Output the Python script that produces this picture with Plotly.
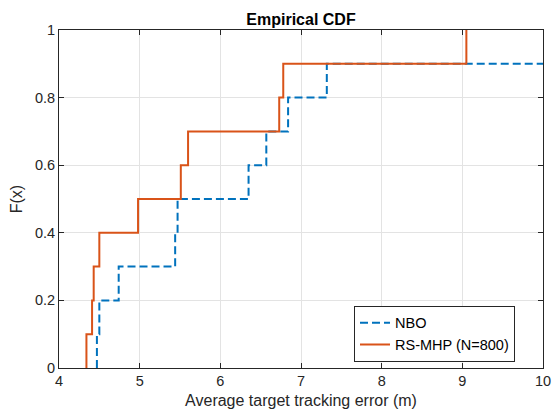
import numpy as np
import plotly.graph_objects as go

# Sample values (ECDF step locations)
nbo_values = [4.47, 4.50, 4.74, 5.44, 5.47, 6.35, 6.57, 6.84, 7.32, 11.5]
rsmhp_values = [4.34, 4.41, 4.43, 4.50, 4.98, 5.51, 5.60, 6.73, 6.78, 9.05]
series_names = ["NBO", "RS-MHP (N=800)"]
x_ticks = [4, 5, 6, 7, 8, 9, 10]
y_ticks = [0, 0.2, 0.4, 0.6, 0.8, 1]


def ecdf_xy(vals):
    v = np.sort(np.asarray(vals, dtype=float))
    n = len(v)
    xs = [v[0]] + list(v)
    ys = [0.0] + [(i + 1) / n for i in range(n)]
    return xs, ys


fig = go.Figure()
x1, y1 = ecdf_xy(nbo_values)
fig.add_trace(go.Scatter(x=x1, y=y1, mode="lines", line_shape="hv", name=series_names[0],
                         line=dict(color="#0072BD", width=2, dash="8px,4px")))
x2, y2 = ecdf_xy(rsmhp_values)
fig.add_trace(go.Scatter(x=x2, y=y2, mode="lines", line_shape="hv", name=series_names[1],
                         line=dict(color="#D95319", width=2)))

axis_common = dict(showgrid=True, gridcolor="#e3e3e3", gridwidth=1, zeroline=False,
                   showline=True, linecolor="#262626", linewidth=1, mirror="ticks",
                   ticks="inside", ticklen=5, tickcolor="#262626", automargin=False,
                   tickfont=dict(size=14.5, color="#262626"))

fig.update_layout(
    width=552, height=413,
    margin=dict(l=59, r=9, t=30, b=45),
    paper_bgcolor="white", plot_bgcolor="white",
    font=dict(family="Liberation Sans, Arial, sans-serif", size=14.5, color="#262626"),
    title=dict(text="<b>Empirical CDF</b>", x=301 / 552, xanchor="center",
               y=1 - 19 / 413, yanchor="middle",
               font=dict(size=16, color="black")),
    xaxis=dict(range=[4, 10], tickvals=x_ticks, ticktext=[str(t) for t in x_ticks],
               title=dict(text="Average target tracking error (m)", standoff=6,
                          font=dict(size=16, color="#262626")), **axis_common),
    yaxis=dict(range=[0, 1], tickvals=y_ticks, ticktext=["0", "0.2", "0.4", "0.6", "0.8", "1"],
               title=dict(text="F(x)", standoff=8, font=dict(size=16, color="#262626")), **axis_common),
    legend=dict(x=(515 - 59) / 484, xanchor="right", y=(368 - 305.7) / 338, yanchor="top",
                bgcolor="white", bordercolor="#262626", borderwidth=1,
                font=dict(size=14.5, color="black"), tracegroupgap=0,
                itemwidth=30),
    showlegend=True,
)

fig.write_html("out.html", config={"displayModeBar": False},
               post_script="document.body.style.margin='0px';document.body.style.overflow='hidden';")
